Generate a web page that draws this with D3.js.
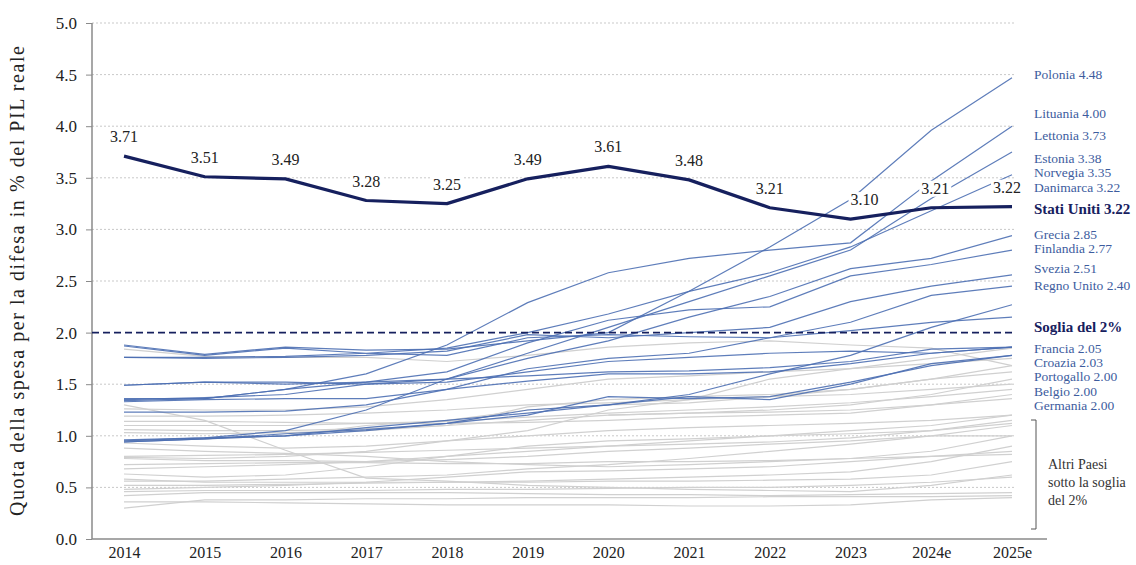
<!DOCTYPE html>
<html>
<head>
<meta charset="utf-8">
<script src="https://cdn.jsdelivr.net/npm/d3@7"></script>
<style>
  body { margin: 0; background: #fff; }
  svg text { font-family: "Liberation Serif", "DejaVu Serif", "Times New Roman", serif !important; }
</style>
</head>
<body>
<svg id="chart" width="1136" height="565"></svg>
<script>
// years on the x axis
var years = ["2014", "2015", "2016", "2017", "2018", "2019", "2020", "2021", "2022", "2023", "2024e", "2025e"];
var yTicks = [0, 0.5, 1, 1.5, 2, 2.5, 3, 3.5, 4, 4.5, 5];

// United States
var usValues = [3.71, 3.51, 3.49, 3.28, 3.25, 3.49, 3.61, 3.48, 3.21, 3.10, 3.21, 3.22];

// countries at or above the 2% threshold (blue lines)
var bluePolonia    = [1.88, 1.79, 1.86, 1.83, 1.84, 1.92, 2.00, 2.40, 2.83, 3.29, 3.96, 4.47];
var blueLituania   = [1.36, 1.36, 1.45, 1.60, 1.88, 2.29, 2.58, 2.72, 2.80, 2.87, 3.47, 4.00];
var blueLettonia   = [0.96, 0.98, 1.05, 1.25, 1.55, 1.80, 2.05, 2.30, 2.55, 2.80, 3.30, 3.75];
var blueEstonia    = [1.76, 1.76, 1.77, 1.80, 1.85, 2.00, 2.18, 2.40, 2.58, 2.83, 3.18, 3.53];
var blueNorvegia   = [1.49, 1.52, 1.50, 1.52, 1.55, 1.75, 1.92, 2.15, 2.35, 2.62, 2.72, 2.94];
var blueDanimarca  = [1.34, 1.36, 1.45, 1.52, 1.62, 1.90, 2.12, 2.22, 2.25, 2.55, 2.66, 2.80];
var blueGrecia     = [1.76, 1.75, 1.76, 1.78, 1.82, 1.98, 1.95, 2.00, 2.05, 2.30, 2.45, 2.56];
var blueFinlandia  = [1.23, 1.23, 1.24, 1.30, 1.45, 1.65, 1.75, 1.80, 1.95, 2.10, 2.36, 2.45];
var blueSvezia     = [0.94, 0.97, 1.00, 1.05, 1.12, 1.25, 1.30, 1.40, 1.60, 1.78, 2.05, 2.27];
var blueRegnoUnito = [1.87, 1.78, 1.85, 1.80, 1.78, 1.95, 1.98, 1.96, 1.95, 2.02, 2.10, 2.15];
var blueFrancia    = [1.49, 1.52, 1.52, 1.50, 1.52, 1.62, 1.72, 1.76, 1.80, 1.82, 1.80, 1.86];
var blueCroazia    = [1.35, 1.37, 1.40, 1.50, 1.55, 1.58, 1.62, 1.63, 1.66, 1.72, 1.84, 1.86];
var bluePortogallo = [1.33, 1.35, 1.36, 1.36, 1.45, 1.53, 1.60, 1.60, 1.62, 1.70, 1.80, 1.86];
var blueBelgio     = [0.95, 0.98, 1.00, 1.08, 1.15, 1.22, 1.30, 1.38, 1.35, 1.50, 1.70, 1.78];
var blueGermania   = [0.94, 0.97, 1.02, 1.06, 1.12, 1.20, 1.38, 1.36, 1.38, 1.52, 1.68, 1.78];

// other countries below the threshold (grey lines)
var grey01 = [1.84, 1.77, 1.76, 1.76, 1.72, 1.78, 1.86, 1.90, 1.92, 1.88, 1.85, 1.68];
var grey02 = [1.30, 1.15, 0.86, 0.59, 0.56, 0.52, 0.50, 0.48, 0.47, 0.46, 0.52, 0.62];
var grey03 = [1.19, 1.19, 1.20, 1.22, 1.25, 1.30, 1.32, 1.35, 1.38, 1.45, 1.55, 1.68];
var grey04 = [1.14, 1.14, 1.13, 1.12, 1.12, 1.13, 1.15, 1.18, 1.20, 1.22, 1.30, 1.40];
var grey05 = [1.06, 1.05, 1.05, 1.07, 1.10, 1.15, 1.20, 1.22, 1.25, 1.30, 1.40, 1.55];
var grey06 = [1.03, 1.02, 1.03, 1.05, 1.10, 1.28, 1.35, 1.38, 1.40, 1.45, 1.55, 1.62];
var grey07 = [0.93, 0.90, 0.88, 0.90, 0.95, 1.00, 1.05, 1.08, 1.10, 1.12, 1.15, 1.20];
var grey08 = [0.79, 0.78, 0.80, 0.85, 0.95, 1.05, 1.25, 1.35, 1.55, 1.65, 1.75, 1.85];
var grey09 = [0.78, 0.76, 0.76, 0.75, 0.77, 0.80, 0.85, 0.88, 0.92, 0.95, 1.00, 1.10];
var grey10 = [0.68, 0.70, 0.72, 0.75, 0.80, 0.85, 0.90, 0.95, 1.00, 1.02, 1.05, 1.12];
var grey11 = [0.63, 0.60, 0.62, 0.70, 0.80, 0.90, 0.95, 0.97, 1.00, 1.05, 1.10, 1.20];
var grey12 = [0.58, 0.55, 0.55, 0.55, 0.55, 0.56, 0.58, 0.60, 0.62, 0.65, 0.75, 0.90];
var grey13 = [0.52, 0.52, 0.53, 0.54, 0.55, 0.55, 0.56, 0.56, 0.57, 0.58, 0.62, 0.75];
var grey14 = [0.48, 0.50, 0.52, 0.55, 0.60, 0.65, 0.66, 0.68, 0.70, 0.75, 0.80, 0.85];
var grey15 = [0.46, 0.47, 0.47, 0.47, 0.48, 0.48, 0.49, 0.50, 0.50, 0.52, 0.55, 0.60];
var grey16 = [0.42, 0.45, 0.45, 0.45, 0.45, 0.44, 0.43, 0.43, 0.42, 0.43, 0.44, 0.45];
var grey17 = [0.30, 0.38, 0.38, 0.39, 0.39, 0.40, 0.40, 0.40, 0.41, 0.41, 0.41, 0.42];
var grey18 = [0.36, 0.36, 0.35, 0.34, 0.33, 0.33, 0.33, 0.32, 0.32, 0.33, 0.38, 0.40];
var grey19 = [1.26, 1.25, 1.25, 1.28, 1.35, 1.45, 1.55, 1.58, 1.62, 1.65, 1.70, 1.75];
var grey20 = [0.95, 0.97, 1.00, 1.10, 1.15, 1.25, 1.30, 1.32, 1.38, 1.40, 1.45, 1.50];
var grey21 = [0.88, 0.85, 0.83, 0.80, 0.75, 0.72, 0.70, 0.72, 0.75, 0.78, 0.85, 1.00];
var grey22 = [null, null, null, null, null, null, 1.20, 1.22, 1.23, 1.25, 1.30, 1.36];
var grey23 = [1.10, 1.10, 1.10, 1.12, 1.14, 1.18, 1.22, 1.25, 1.28, 1.32, 1.38, 1.45];
var grey24 = [0.72, 0.73, 0.74, 0.74, 0.73, 0.73, 0.75, 0.75, 0.76, 0.78, 0.80, 0.82];
var grey25 = [0.56, 0.56, 0.58, 0.60, 0.62, 0.68, 0.72, 0.78, 0.85, 0.92, 1.00, 1.00];
var grey26 = [0.80, 0.81, 0.82, 0.84, 0.86, 0.88, 0.90, 0.92, 0.94, 0.98, 1.05, 1.15];

// right-hand labels
var labelNames  = ["Polonia", "Lituania", "Lettonia", "Estonia", "Norvegia", "Danimarca", "Stati Uniti",
                   "Grecia", "Finlandia", "Svezia", "Regno Unito", "Soglia del 2%",
                   "Francia", "Croazia", "Portogallo", "Belgio", "Germania"];
var labelValues = [4.48, 4.00, 3.73, 3.38, 3.35, 3.22, 3.22, 2.85, 2.77, 2.51, 2.40, null, 2.05, 2.03, 2.00, 2.00, 2.00];
var threshold = 2;

var blueSeries = [bluePolonia, blueLituania, blueLettonia, blueEstonia, blueNorvegia, blueDanimarca,
  blueGrecia, blueFinlandia, blueSvezia, blueRegnoUnito, blueFrancia, blueCroazia, bluePortogallo,
  blueBelgio, blueGermania];
var greySeries = [grey01, grey02, grey03, grey04, grey05, grey06, grey07, grey08, grey09, grey10, grey11,
  grey12, grey13, grey14, grey15, grey16, grey17, grey18, grey19, grey20, grey21, grey22, grey23, grey24,
  grey25, grey26];

var navy = "#16205e";
var blue = "#4d6fb3";
var serif = "Liberation Serif, DejaVu Serif, Times New Roman, serif";
var svg = d3.select("#chart");

var x = d3.scalePoint().domain(years).range([124, 1012]);
var y = d3.scaleLinear().domain([0, 5]).range([539, 23]);

// grid
svg.append("g").selectAll("line")
  .data(yTicks.filter(function (d) { return d > 0 && d !== threshold; }))
  .enter().append("line")
  .attr("x1", 92).attr("x2", 1015)
  .attr("y1", function (d) { return y(d); }).attr("y2", function (d) { return y(d); })
  .attr("stroke", "#c9c9c9").attr("stroke-width", 1).attr("stroke-dasharray", "2,2");

// axes
var yAxis = svg.append("g").attr("transform", "translate(92,0)")
  .call(d3.axisLeft(y).tickValues(yTicks).tickFormat(d3.format(".1f")).tickSize(6).tickPadding(9))
  .attr("font-family", serif);
yAxis.select(".domain").attr("stroke", "#8a8a8a").attr("stroke-width", 1.5).attr("d", "M0," + y(5) + "V" + y(0));
yAxis.selectAll(".tick line").attr("stroke", "#8a8a8a");
yAxis.selectAll(".tick text").attr("fill", "#222").attr("font-size", 17);

var xAxis = svg.append("g").attr("transform", "translate(0," + y(0) + ")")
  .call(d3.axisBottom(x).tickSize(0).tickPadding(8))
  .attr("font-family", serif);
xAxis.select(".domain").attr("stroke", "#8a8a8a").attr("stroke-width", 1.5).attr("d", "M92,0H1047");
xAxis.selectAll(".tick text").attr("fill", "#222").attr("font-size", 16);

svg.append("text")
  .attr("transform", "translate(24," + 281 + ") rotate(-90)")
  .attr("text-anchor", "middle")
  .attr("fill", "#222")
  .attr("font-family", serif)
  .attr("font-size", 20)
  .attr("textLength", 470)
  .attr("lengthAdjust", "spacing")
  .text("Quota della spesa per la difesa in % del PIL reale");

var line = d3.line()
  .defined(function (d) { return d != null; })
  .x(function (d, i) { return x(years[i]); })
  .y(function (d) { return y(d); });

svg.append("g").selectAll("path").data(greySeries).enter().append("path")
  .attr("d", line).attr("fill", "none").attr("stroke", "#d0d0d0").attr("stroke-width", 1.2);

svg.append("g").selectAll("path").data(blueSeries).enter().append("path")
  .attr("d", line).attr("fill", "none").attr("stroke", blue).attr("stroke-width", 1.2).attr("opacity", 0.9);

// 2% threshold
svg.append("line")
  .attr("x1", 92).attr("x2", 1015).attr("y1", y(threshold)).attr("y2", y(threshold))
  .attr("stroke", navy).attr("stroke-width", 1.6).attr("stroke-dasharray", "7,4");

// US value labels, with white boxes that cut the thin lines
var labelShift = [0, 0, 0, 0, 0, 0, 0, 0, 0, 14, 4, -5];
var usLabels = svg.append("g").attr("font-family", serif);
usValues.forEach(function (v, i) {
  var t = usLabels.append("text")
    .attr("x", x(years[i]) + labelShift[i])
    .attr("y", y(v) - 14)
    .attr("text-anchor", "middle")
    .attr("fill", "#222")
    .attr("font-size", 16)
    .text(d3.format(".2f")(v));
  var b = t.node().getBBox();
  usLabels.insert("rect", "text")
    .attr("x", b.x - 2).attr("y", b.y + 1).attr("width", b.width + 4).attr("height", b.height - 1)
    .attr("fill", "#fff");
});

svg.append("path")
  .datum(usValues)
  .attr("d", line).attr("fill", "none").attr("stroke", navy).attr("stroke-width", 3.2)
  .attr("stroke-linejoin", "round");

// right-hand labels
var labelY = [74, 113, 135, 158, 172, 187, 209, 234, 248, 268, 285, 327, 348, 362, 376, 391, 405];
svg.append("g").attr("font-family", serif).selectAll("text").data(labelNames).enter().append("text")
  .attr("x", 1034)
  .attr("y", function (d, i) { return labelY[i] + 5; })
  .attr("fill", function (d, i) { return (i === 6 || i === 11) ? navy : "#3d5c9e"; })
  .attr("font-weight", function (d, i) { return (i === 6 || i === 11) ? "bold" : "normal"; })
  .attr("font-size", function (d, i) { return (i === 6 || i === 11) ? 15 : 13.5; })
  .text(function (d, i) { return labelValues[i] == null ? d : d + " " + d3.format(".2f")(labelValues[i]); });

// bracket for the other countries
svg.append("path")
  .attr("d", "M1031,420H1036V529H1031")
  .attr("fill", "none").attr("stroke", "#555").attr("stroke-width", 1);
svg.append("text")
  .attr("x", 1048).attr("y", 469)
  .attr("fill", "#333").attr("font-family", serif).attr("font-size", 14)
  .selectAll("tspan").data(["Altri Paesi", "sotto la soglia", "del 2%"]).enter().append("tspan")
  .attr("x", 1048).attr("dy", function (d, i) { return i === 0 ? 0 : 18; })
  .text(function (d) { return d; });
</script>
</body>
</html>
